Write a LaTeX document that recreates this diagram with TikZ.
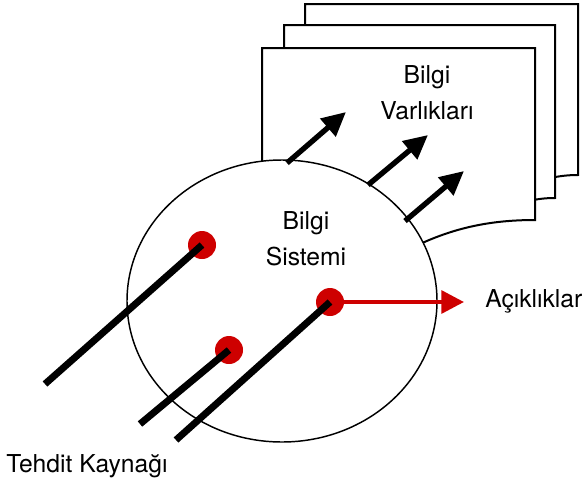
\documentclass[tikz,border=0pt]{standalone}
\usepackage{fontspec}
\setmainfont{TeX Gyre Heros}
\usetikzlibrary{arrows.meta}
\definecolor{kirmizi}{RGB}{206,0,0}
\tikzset{
  yazi/.style={inner sep=0.75pt, align=center, font=\fontsize{18.5pt}{22pt}\selectfont, text=black},
  belge/.style={draw, line width=1.5, fill=white},
  okBilgi/.style={line width=4, -{Triangle[length=18pt,width=17pt]}},
  tehdit/.style={line width=5.2, line cap=butt},
  nokta/.style={circle, fill=kirmizi, inner sep=0pt, minimum size=21}
}

\begin{document}
\begin{tikzpicture}[x=0.75pt,y=0.75pt,yscale=-1,xscale=1]
%set diagram left start at 0, and has height of 486
\path (0,0) rectangle (585,486);

%Shape: Document back [id:belge3]
\draw [belge] (305,4) -- (578,4) -- (578,175) .. controls (568,175) and (560,176) .. (550,178) -- (305,178) -- cycle ;
%Shape: Document middle [id:belge2]
\draw [belge] (284,25) -- (555,25) -- (555,198) .. controls (545,198) and (538,199) .. (528,201) -- (284,201) -- cycle ;
%Shape: Document front [id:belge1]
\draw [belge] (262,48) -- (535,48) -- (535,220) .. controls (490,220) and (455,228) .. (420,244) .. controls (370,266) and (320,270) .. (262,262) -- cycle ;

%Shape: Ellipse [id:sistem]
\draw [line width=1.1, fill=white] (282,301) ellipse [x radius=155, y radius=141] ;

%Coordinates
\coordinate (c1) at (287,163) ;
\coordinate (c2) at (368,185) ;
\coordinate (c3) at (405,221) ;
\coordinate (u1) at (346,112) ;
\coordinate (u2) at (428,135) ;
\coordinate (u3) at (464,171) ;
\coordinate (t1) at (45,384) ;
\coordinate (t2) at (140,424) ;
\coordinate (t3) at (176,440) ;
\coordinate (acik) at (464,302) ;

%Arrows to documents
\draw [okBilgi] (c1) -- (u1) ;
\draw [okBilgi] (c2) -- (u2) ;
\draw [okBilgi] (c3) -- (u3) ;

%Red dots
\node [nokta] (n1) at (202,245) {} ;
\node [nokta] (n2) at (229,350) {} ;
\node [nokta] (n3) at (330,302) {} ;

%Red arrow
\draw [kirmizi, line width=3.2, -{Triangle[length=17pt,width=17pt]}] (n3.center) -- (acik) ;

%Threat lines
\draw [tehdit] (t1) -- (n1.center) ;
\draw [tehdit] (t2) -- (n2.center) ;
\draw [tehdit] (t3) -- (n3.center) ;

% Text Node
\node [yazi] (varlik) at (427,93) {Bilgi\\[5pt]Varlıkları} ;
% Text Node
\node [yazi] (sis) at (306,239) {Bilgi\\[5pt]Sistemi} ;
% Text Node
\node [yazi, anchor=west] (aciklik) at (484,301) {Açıklıklar} ;
% Text Node
\node [yazi, anchor=west] (kaynak) at (5,466) {Tehdit Kaynağı} ;

\end{tikzpicture}
\end{document}
